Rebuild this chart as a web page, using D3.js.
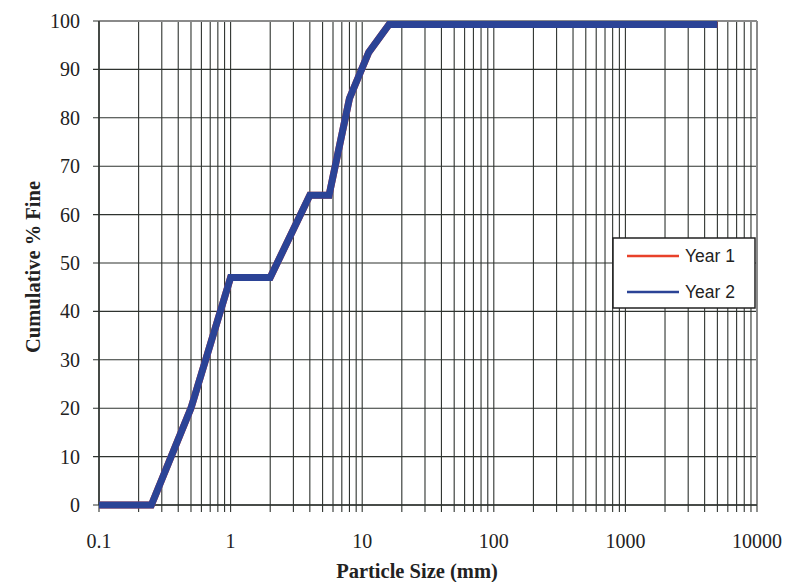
<!DOCTYPE html>
<html><head><meta charset="utf-8">
<script src="https://cdn.jsdelivr.net/npm/d3@7/dist/d3.min.js"></script>
<style>body{margin:0;background:#fff}</style>
</head><body>
<svg id="c" width="801" height="582"></svg>
<script>
const sizes = [0.1, 0.25, 0.5, 1, 2, 4, 5.6, 8, 11.2, 16, 5000];
const year1 = [0, 0, 20, 47, 47, 64, 64, 84, 93.5, 99.3, 99.3];
const year2 = [0, 0, 20, 47, 47, 64, 64, 84, 93.5, 99.3, 99.3];
const xTickLabels = ["0.1", "1", "10", "100", "1000", "10000"];
const yTicks = [0, 10, 20, 30, 40, 50, 60, 70, 80, 90, 100];
const seriesNames = ["Year 1", "Year 2"];

const svg = d3.select("#c");
const L = 99, R = 757, T = 21, B = 505;
const x = d3.scaleLog().domain([0.1, 10000]).range([L, R]);
const y = d3.scaleLinear().domain([0, 100]).range([B, T]);

// minor + major vertical grid
const vlines = [];
for (let e = -1; e < 4; e++) for (let m = 1; m <= 9; m++) vlines.push(m * Math.pow(10, e));
vlines.push(10000);
const g = svg.append("g");
g.selectAll("line.v").data(vlines).enter().append("line")
  .attr("x1", d => x(d)).attr("x2", d => x(d))
  .attr("y1", T).attr("y2", B + 7)
  .attr("stroke", "#2e332f").attr("stroke-width", 1.1);
g.selectAll("line.h").data(yTicks).enter().append("line")
  .attr("x1", L - 6).attr("x2", R)
  .attr("y1", d => y(d)).attr("y2", d => y(d))
  .attr("stroke", "#2e332f").attr("stroke-width", 1.1);
// frame
svg.append("line").attr("x1", L).attr("x2", R).attr("y1", T).attr("y2", T).attr("stroke", "#8a8a8a").attr("stroke-width", 2);
svg.append("line").attr("x1", R).attr("x2", R).attr("y1", T).attr("y2", B).attr("stroke", "#8a8a8a").attr("stroke-width", 2);
svg.append("line").attr("x1", L).attr("x2", L).attr("y1", T).attr("y2", B).attr("stroke", "#2e332f").attr("stroke-width", 1.5);
svg.append("line").attr("x1", L).attr("x2", R).attr("y1", B).attr("y2", B).attr("stroke", "#2e332f").attr("stroke-width", 1.5);

// axes labels
const serif = "'Liberation Serif', 'Times New Roman', serif";
svg.selectAll("text.yt").data(yTicks).enter().append("text")
  .attr("x", L - 19).attr("y", d => y(d) + 7)
  .attr("text-anchor", "end").attr("font-family", serif).attr("font-size", 20).attr("fill", "#222")
  .text(d => d);
svg.selectAll("text.xt").data(xTickLabels).enter().append("text")
  .attr("x", d => x(+d)).attr("y", 548)
  .attr("text-anchor", "middle").attr("font-family", serif).attr("font-size", 20).attr("fill", "#222")
  .text(d => d);
svg.append("text").attr("x", 417).attr("y", 578).attr("text-anchor", "middle")
  .attr("font-family", serif).attr("font-size", 20.5).attr("font-weight", "bold").attr("fill", "#222")
  .text("Particle Size (mm)");
svg.append("text").attr("transform", `translate(40,267) rotate(-90)`).attr("text-anchor", "middle")
  .attr("font-family", serif).attr("font-size", 20.5).attr("font-weight", "bold").attr("fill", "#222")
  .text("Cumulative % Fine");

// lines
const line = d3.line().x((d, i) => x(sizes[i])).y(d => y(d));
svg.append("path").datum(year1).attr("d", line).attr("fill", "none")
  .attr("stroke", "#e8412a").attr("stroke-width", 7).attr("stroke-linejoin", "miter");
svg.append("path").datum(year2).attr("d", line).attr("fill", "none")
  .attr("stroke", "#2b4396").attr("stroke-width", 7).attr("stroke-linejoin", "miter");

// legend
const lg = svg.append("g");
lg.append("rect").attr("x", 613).attr("y", 238).attr("width", 142).attr("height", 70)
  .attr("fill", "#fff").attr("stroke", "#222").attr("stroke-width", 1.5);
const colors = ["#e8412a", "#2b4396"];
seriesNames.forEach((n, i) => {
  const yy = 256 + i * 36;
  lg.append("line").attr("x1", 627).attr("x2", 679).attr("y1", yy).attr("y2", yy)
    .attr("stroke", colors[i]).attr("stroke-width", 2.5);
  lg.append("text").attr("x", 685).attr("y", yy + 6).attr("font-family", "'Liberation Sans', Arial, sans-serif")
    .attr("font-size", 17.5).attr("fill", "#222").text(n);
});
</script>
</body></html>
